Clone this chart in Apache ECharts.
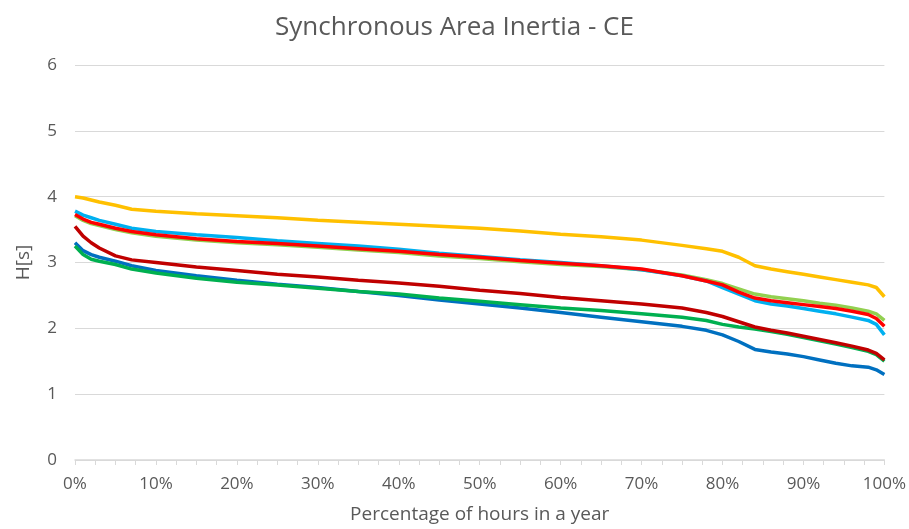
<!DOCTYPE html>
<html>
<head>
<meta charset="utf-8">
<script src="https://cdn.jsdelivr.net/npm/echarts@6/dist/echarts.min.js"></script>
<style>html,body{margin:0;padding:0;background:#fff}#c{width:909px;height:529px}</style>
</head>
<body>
<div id="c"></div>
<script>
const xPct = [0,1,2,3,5,7,10,15,20,25,30,35,40,45,50,55,60,65,70,75,78,80,82,84,86,88,90,92,94,96,98,99,100];
const yellow = [4.00,3.98,3.95,3.92,3.87,3.81,3.78,3.74,3.71,3.68,3.64,3.61,3.58,3.55,3.52,3.48,3.43,3.39,3.34,3.26,3.21,3.17,3.08,2.95,2.90,2.86,2.82,2.78,2.74,2.70,2.66,2.62,2.48];
const lightBlue = [3.78,3.72,3.68,3.64,3.58,3.52,3.47,3.42,3.38,3.33,3.29,3.25,3.20,3.14,3.09,3.04,3.00,2.95,2.89,2.80,2.72,2.62,2.52,2.42,2.37,2.34,2.30,2.26,2.22,2.17,2.12,2.06,1.90];
const red = [3.73,3.66,3.61,3.58,3.52,3.47,3.42,3.36,3.32,3.29,3.25,3.21,3.17,3.12,3.08,3.03,2.99,2.95,2.90,2.80,2.72,2.66,2.55,2.46,2.42,2.39,2.36,2.33,2.30,2.26,2.21,2.15,2.03];
const lightGreen = [3.71,3.64,3.59,3.56,3.50,3.45,3.40,3.34,3.30,3.27,3.23,3.19,3.15,3.10,3.06,3.01,2.97,2.94,2.89,2.81,2.74,2.68,2.60,2.52,2.48,2.45,2.42,2.38,2.35,2.31,2.26,2.22,2.12];
const darkRed = [3.55,3.40,3.30,3.22,3.10,3.04,3.00,2.93,2.88,2.82,2.78,2.73,2.69,2.64,2.58,2.53,2.47,2.42,2.37,2.31,2.24,2.18,2.10,2.02,1.97,1.93,1.88,1.83,1.78,1.73,1.67,1.62,1.52];
const green = [3.25,3.12,3.05,3.02,2.97,2.90,2.84,2.76,2.70,2.66,2.61,2.56,2.52,2.46,2.41,2.36,2.31,2.27,2.22,2.17,2.12,2.06,2.02,1.99,1.95,1.91,1.86,1.81,1.76,1.71,1.65,1.60,1.50];
const blue = [3.30,3.18,3.12,3.08,3.02,2.95,2.88,2.80,2.73,2.67,2.62,2.56,2.50,2.43,2.37,2.31,2.24,2.17,2.10,2.03,1.97,1.90,1.80,1.68,1.64,1.61,1.57,1.52,1.47,1.43,1.41,1.37,1.30];

const seriesDefs = [
  ['Blue', blue, '#0070C0'],
  ['Green', green, '#00B050'],
  ['Dark red', darkRed, '#C00000'],
  ['Light green', lightGreen, '#92D050'],
  ['Light blue', lightBlue, '#00B0F0'],
  ['Red', red, '#FF0000'],
  ['Yellow', yellow, '#FFC000']
];
const txt = '#595959';
const font = 'Open Sans';
const chart = echarts.init(document.getElementById('c'));
chart.setOption({
  animation: false,
  title: {text: 'Synchronous Area Inertia - CE', left: 'center', top: 10,
    textStyle: {color: txt, fontSize: 26, fontWeight: 'normal', fontFamily: font}},
  grid: {left: 75, right: 24, top: 65, bottom: 68},
  xAxis: {type: 'value', min: 0, max: 100, interval: 10,
    name: 'Percentage of hours in a year', nameLocation: 'middle', nameGap: 45,
    nameTextStyle: {color: txt, fontSize: 19, fontFamily: font},
    axisLine: {lineStyle: {color: '#d9d9d9', width: 1.5}},
    axisTick: {show: true, length: 5, lineStyle: {color: '#d9d9d9'}},
    minorTick: {show: true, splitNumber: 4, length: 5, lineStyle: {color: '#d9d9d9'}},
    splitLine: {show: false},
    axisLabel: {formatter: '{value}%', color: txt, fontSize: 17, fontFamily: font, margin: 16}},
  yAxis: {type: 'value', min: 0, max: 6, interval: 1,
    name: 'H[s]', nameLocation: 'middle', nameGap: 42, nameRotate: 90,
    nameTextStyle: {color: txt, fontSize: 19, fontFamily: font},
    axisLine: {show: false}, axisTick: {show: false},
    splitLine: {lineStyle: {color: '#d9d9d9', width: 1.2}},
    axisLabel: {color: txt, fontSize: 17, fontFamily: font, margin: 18}},
  series: seriesDefs.map(([name, vals, color]) => ({
    name, type: 'line', showSymbol: false, symbol: 'none',
    data: xPct.map((x, i) => [x, vals[i]]),
    lineStyle: {color, width: 3.5}, itemStyle: {color}
  }))
});
</script>
</body>
</html>
